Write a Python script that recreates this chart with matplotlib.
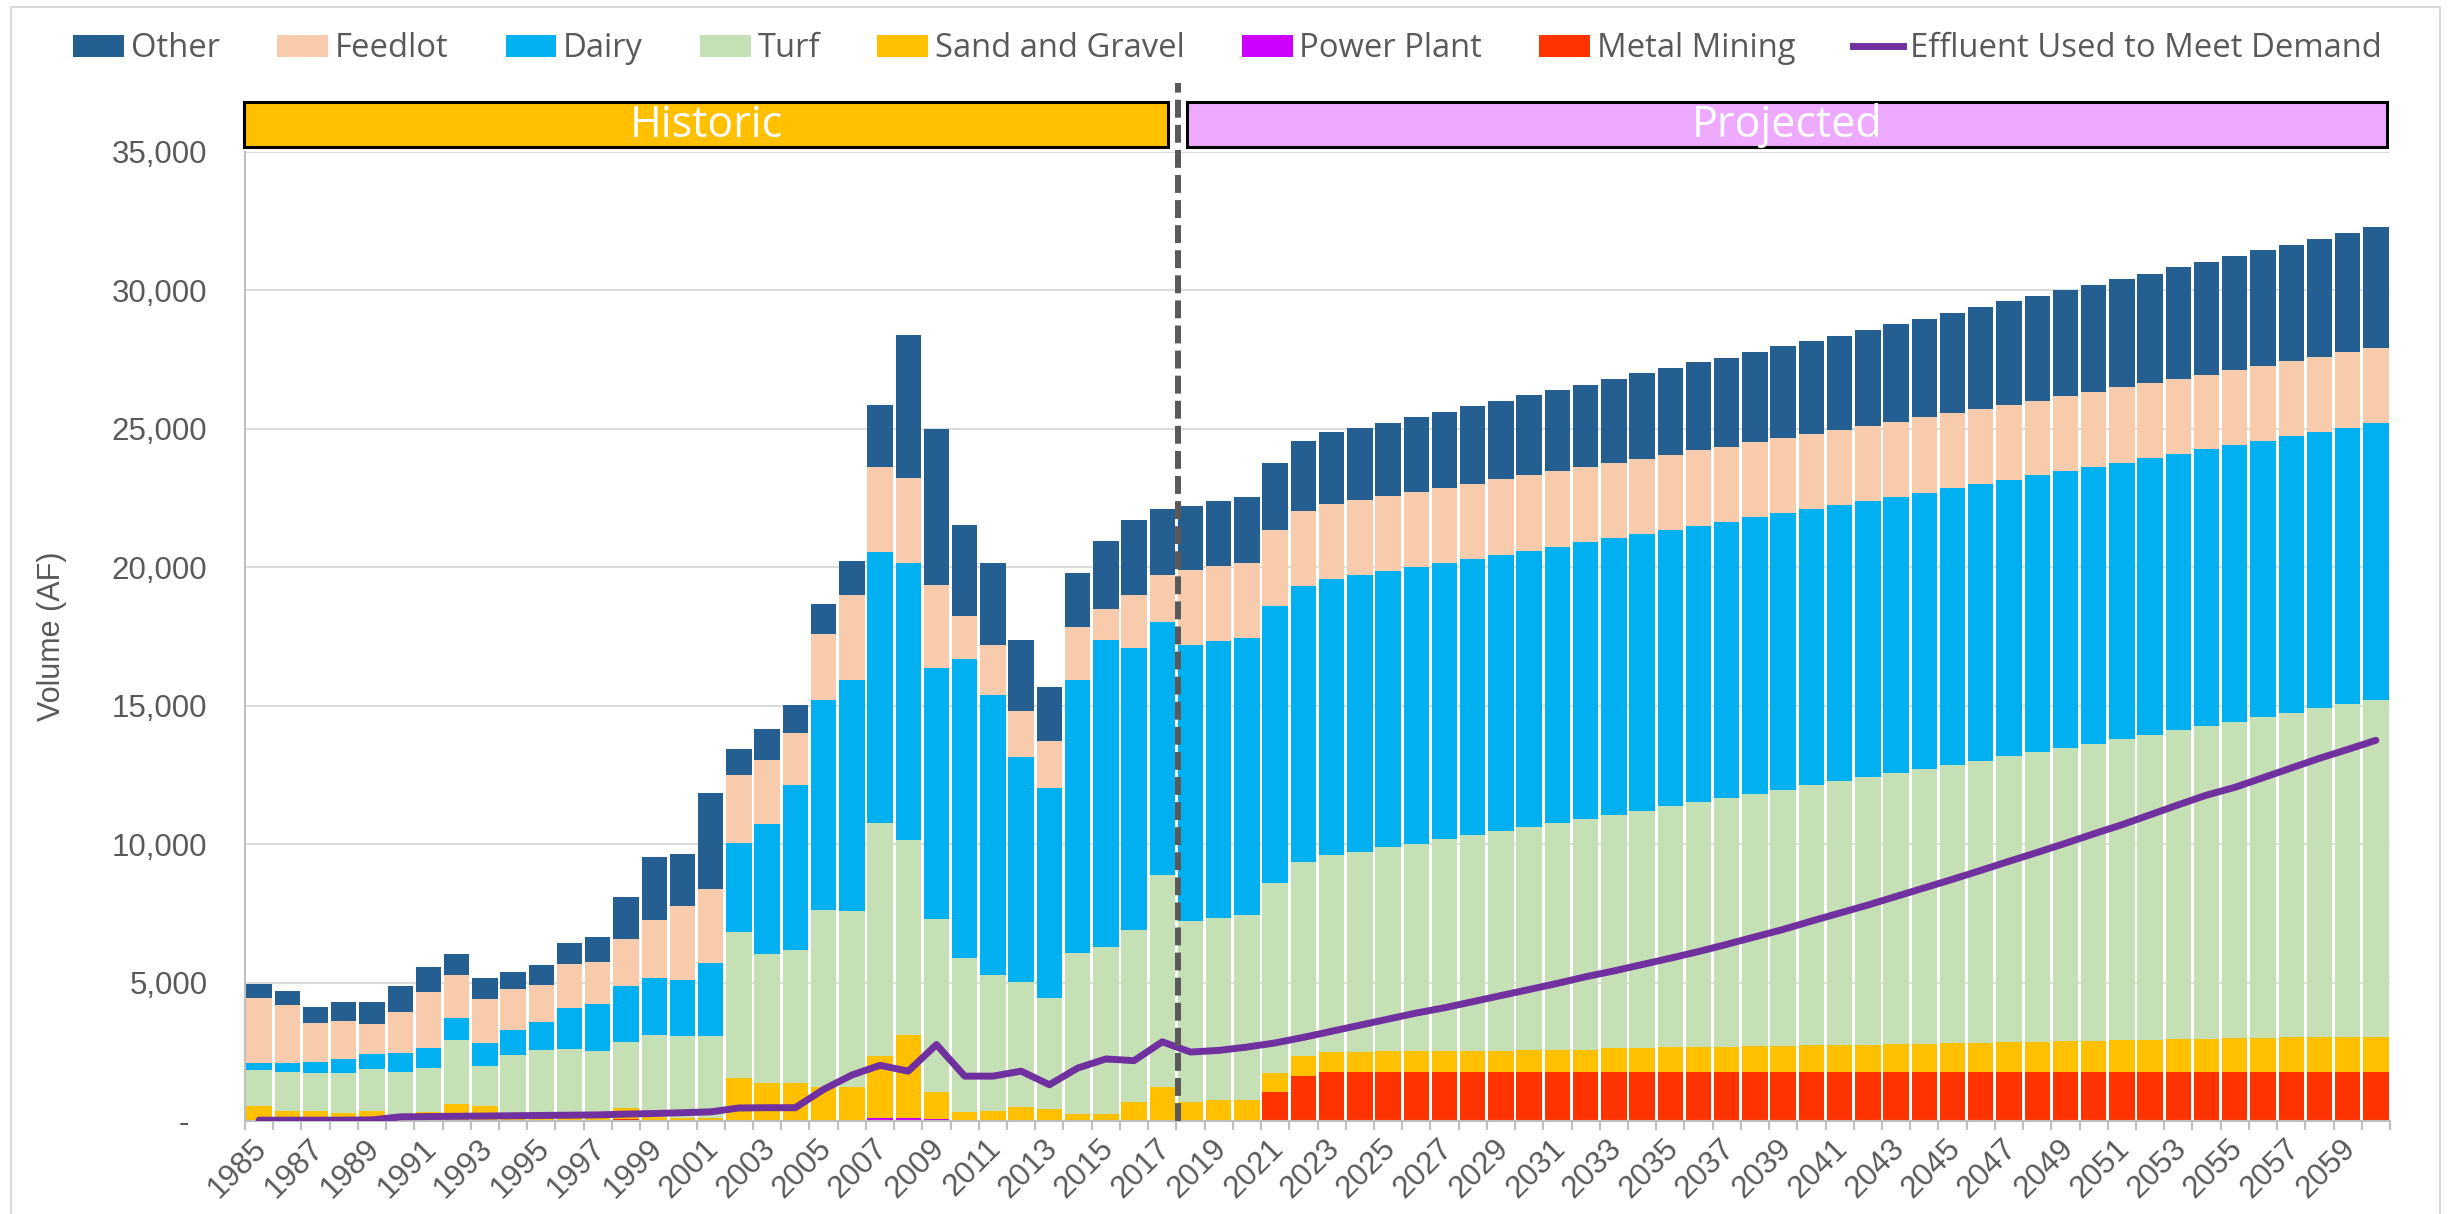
import numpy as np
import matplotlib
matplotlib.use("Agg")
import matplotlib.pyplot as plt
from matplotlib.patches import Rectangle, Patch
from matplotlib.lines import Line2D
import matplotlib.transforms as mtransforms

years = list(range(1985, 2061))

# acre-feet per year
metal_mining = [0, 0, 0, 0, 0, 0, 0, 0, 0, 0, 0, 0, 0, 60, 50, 40, 30, 40, 40, 30,
                0, 0, 0, 0, 0, 0, 0, 0, 0, 0, 0, 0, 0, 20, 20, 20, 1050, 1640, 1770, 1770,
                1770, 1770, 1770, 1770, 1770, 1770, 1770, 1770, 1770, 1770, 1770, 1770, 1770, 1770, 1770, 1770,
                1770, 1770, 1770, 1770, 1770, 1770, 1770, 1770, 1770, 1770, 1770, 1770, 1770, 1770, 1770, 1770,
                1770, 1770, 1770, 1770]
power_plant = [0, 0, 0, 0, 0, 0, 0, 0, 0, 0, 0, 0, 0, 0, 0, 0, 0, 0, 0, 0,
               0, 40, 100, 120, 80, 0, 0, 0, 0, 0, 0, 0, 30, 0, 0, 0, 0, 0, 0, 0,
               0, 0, 0, 0, 0, 0, 0, 0, 0, 0, 0, 0, 0, 0, 0, 0,
               0, 0, 0, 0, 0, 0, 0, 0, 0, 0, 0, 0, 0, 0, 0, 0,
               0, 0, 0, 0]
sand_gravel = [550, 370, 360, 300, 370, 200, 340, 600, 540, 150, 100, 100, 250, 410, 100, 80, 90, 1520, 1340, 1350,
               1240, 1200, 2240, 2970, 960, 310, 350, 520, 440, 250, 250, 700, 1210, 680, 730, 730, 700, 700, 730, 730,
               750, 750, 750, 750, 760, 780, 800, 810, 850, 860, 900, 910, 920, 940, 950, 970,
               980, 990, 1010, 1020, 1040, 1060, 1070, 1090, 1110, 1130, 1150, 1170, 1180, 1200, 1220, 1230,
               1250, 1260, 1270, 1280]
turf = [1290, 1400, 1370, 1450, 1520, 1570, 1590, 2330, 1440, 2250, 2450, 2510, 2270, 2390, 2960, 2940, 2960, 5250, 4650, 4780,
        6390, 6330, 8420, 7050, 6240, 5560, 4920, 4500, 4000, 5800, 6050, 6200, 7650, 6530, 6590, 6690, 6860, 7010, 7090, 7220,
        7360, 7490, 7660, 7810, 7940, 8070, 8200, 8320, 8440, 8570, 8700, 8830, 8960, 9090, 9240, 9390,
        9520, 9660, 9780, 9940, 10060, 10180, 10340, 10460, 10590, 10730, 10880, 11000, 11160, 11280, 11430, 11590,
        11730, 11870, 12020, 12160]
dairy = [240, 330, 400, 500, 540, 690, 700, 790, 840, 870, 1030, 1470, 1710, 2020, 2050, 2040, 2620, 3240, 4680, 5970,
         7590, 8370, 9800, 10030, 9100, 10800, 10130, 8140, 7580, 9890, 11070, 10200, 9120, 9980, 9990, 10010, 10000, 9980, 9990, 9990,
         9980, 10000, 9960, 9970, 9980, 9980, 9970, 10010, 10010, 10010, 9980, 9990, 9990, 10010, 9990, 9990,
         9990, 9980, 9990, 9960, 9990, 10010, 9990, 10010, 10000, 9990, 9980, 9990, 9980, 10010, 9980, 9980,
         9990, 9980, 9960, 10000]
feedlot = [2380, 2080, 1420, 1360, 1090, 1480, 2040, 1570, 1570, 1510, 1350, 1580, 1520, 1700, 2100, 2660, 2690, 2450, 2340, 1900,
           2380, 3050, 3070, 3050, 2980, 1570, 1780, 1660, 1700, 1890, 1120, 1910, 1720, 2690, 2720, 2700, 2720, 2720, 2690, 2730,
           2710, 2720, 2720, 2710, 2740, 2720, 2730, 2700, 2690, 2690, 2720, 2740, 2720, 2710, 2720, 2690,
           2690, 2700, 2710, 2720, 2710, 2700, 2690, 2690, 2720, 2710, 2720, 2710, 2720, 2690, 2720, 2690,
           2710, 2720, 2750, 2720]
other = [480, 510, 560, 690, 790, 930, 880, 730, 790, 610, 710, 760, 890, 1500, 2290, 1880, 3470, 940, 1110, 980,
         1080, 1220, 2220, 5180, 5620, 3280, 2990, 2570, 1970, 1970, 2470, 2710, 2390, 2320, 2340, 2400, 2430, 2500, 2600, 2590,
         2650, 2710, 2760, 2810, 2820, 2890, 2940, 2990, 3050, 3100, 3120, 3170, 3210, 3270, 3310, 3360,
         3410, 3470, 3530, 3570, 3620, 3670, 3740, 3770, 3810, 3870, 3910, 3960, 4030, 4080, 4120, 4200,
         4200, 4260, 4310, 4360]
effluent = [30, 30, 30, 30, 40, 150, 160, 170, 180, 190, 200, 210, 220, 250, 270, 300, 330, 470, 480, 480,
            1140, 1660, 2010, 1800, 2760, 1620, 1620, 1800, 1310, 1910, 2240, 2180, 2860, 2490, 2550, 2670, 2820, 3020, 3240, 3460,
            3680, 3900, 4090, 4310, 4530, 4750, 4970, 5210, 5420, 5650, 5880, 6120, 6380, 6650, 6920, 7220,
            7510, 7800, 8110, 8420, 8730, 9050, 9380, 9700, 10030, 10370, 10700, 11060, 11420, 11770, 12050, 12400,
            12750, 13100, 13420, 13750]

series = [
    ("Metal Mining", metal_mining, "#FF3300"),
    ("Power Plant", power_plant, "#CC00FF"),
    ("Sand and Gravel", sand_gravel, "#FFC000"),
    ("Turf", turf, "#C5E0B4"),
    ("Dairy", dairy, "#00B0F0"),
    ("Feedlot", feedlot, "#F8CBAD"),
    ("Other", other, "#255E91"),
]
line_color = "#7030A0"
text_color = "#595959"

plt.rcParams['font.family'] = ['Liberation Sans', 'DejaVu Sans']

fig = plt.figure(figsize=(24.48, 12.14), dpi=100)
ax = fig.add_axes([0.10008, 0.07661, 0.87623, 0.79819])

x = np.arange(len(years))
bottom = np.zeros(len(years))
for name, vals, col in series:
    vals = np.array(vals, dtype=float)
    ax.bar(x, vals, width=0.9, bottom=bottom, color=col, linewidth=0, zorder=2)
    bottom += vals

ax.plot(x, effluent, color=line_color, lw=5, solid_capstyle='round', solid_joinstyle='round', zorder=3)

ax.set_xlim(-0.5, len(years) - 0.5)
ax.set_ylim(0, 35000)

# y axis
yt = np.arange(0, 35001, 5000)
ax.set_yticks(yt)
ax.set_yticklabels(["-"] + [f"{v:,}" for v in yt[1:]])
ax.tick_params(axis='y', length=0, pad=27, labelsize=22.5, labelcolor=text_color)
ax.yaxis.grid(True, color='#D9D9D9', lw=1.3, zorder=0)
ax.set_axisbelow(True)
zero_lbl = ax.get_yticklabels()[0]
zero_lbl.set_transform(zero_lbl.get_transform() +
                       mtransforms.ScaledTranslation(-18 / 100, 0, fig.dpi_scale_trans))
ax.set_ylabel("Volume (AF)", fontsize=22, color=text_color, labelpad=32)

# x axis: ticks between categories, labels every other year
ax.set_xticks(x[::2])
ax.set_xticklabels([str(y) for y in years[::2]], rotation=45, ha='right', va='top')
ax.set_xticks(np.arange(-0.5, len(years), 1), minor=True)
ax.tick_params(axis='x', which='major', length=0, pad=9, labelsize=22.5, labelcolor=text_color)
ax.tick_params(axis='x', which='minor', length=6.5, width=1.5, color='#BFBFBF')
for lbl in ax.get_xticklabels():
    lbl.set_transform(lbl.get_transform() +
                      mtransforms.ScaledTranslation(14 / 100, 0, fig.dpi_scale_trans))

for s in ['top', 'right']:
    ax.spines[s].set_visible(False)
for s in ['left', 'bottom']:
    ax.spines[s].set_color('#BFBFBF')
    ax.spines[s].set_linewidth(1.5)

# historic / projected banners
trans = mtransforms.blended_transform_factory(ax.transData, ax.transAxes)
banners = [("Historic", -0.53, 32.21, "#FFC000"), ("Projected", 32.88, 75.4, "#EEAAFF")]
for label, x0, x1, fc in banners:
    ax.add_patch(Rectangle((x0, 1.0052), x1 - x0, 0.0464, transform=trans, clip_on=False,
                           facecolor=fc, edgecolor='black', lw=2.2, zorder=5))
    ax.text((x0 + x1) / 2, 1.0270, label, transform=trans, ha='center', va='center',
            color='white', fontsize=31, family=['Open Sans', 'DejaVu Sans'], zorder=6)

ax.plot([32.56, 32.56], [0, 1.0712], transform=trans, clip_on=False, color='#595959',
        lw=4.3, dashes=(3, 1.2), zorder=7)

# legend
handles = [Patch(facecolor=c, label=n) for n, _, c in series[::-1]]
handles.append(Line2D([], [], color=line_color, lw=5, label="Effluent Used to Meet Demand"))
fig.legend(handles=handles, loc='center', bbox_to_anchor=(0.5015, 0.9597), ncol=8,
           frameon=False, handlelength=1.55, handleheight=0.62,
           handletextpad=0.2, columnspacing=1.75, labelcolor=text_color,
           prop={'family': ['Open Sans', 'DejaVu Sans'], 'size': 23.6})

# chart border
fig.patches.append(Rectangle((11 / 2448, -0.01), (2440 - 11) / 2448, 1.01 - 7 / 1214,
                             transform=fig.transFigure, fill=False, edgecolor='#D9D9D9', lw=1.5))

fig.savefig("out.png", dpi=100)
